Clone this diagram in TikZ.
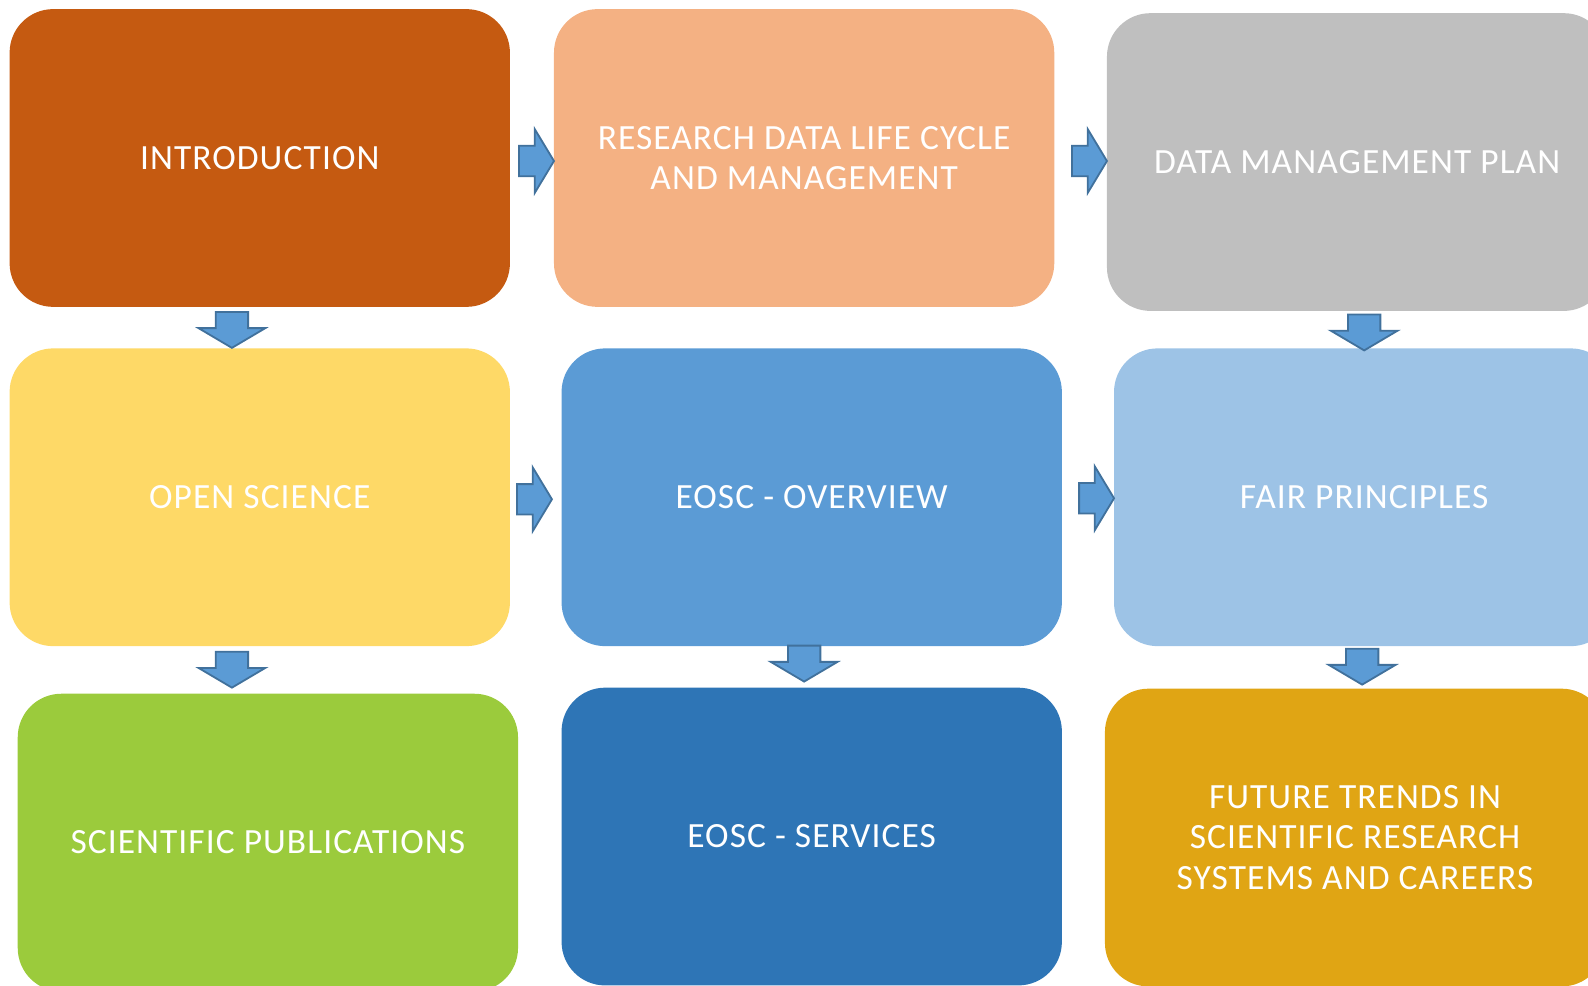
\documentclass[tikz,border=0pt]{standalone}
\usepackage{fontspec}
\setmainfont{Carlito}[LetterSpace=3]
\definecolor{c1}{HTML}{C55A11}
\definecolor{c2}{HTML}{F4B183}
\definecolor{c3}{HTML}{BFBFBF}
\definecolor{c4}{HTML}{FED967}
\definecolor{c5}{HTML}{5B9BD5}
\definecolor{c6}{HTML}{9DC3E6}
\definecolor{c7}{HTML}{9BCB3C}
\definecolor{c8}{HTML}{2E75B6}
\definecolor{c9}{HTML}{E0A514}
\definecolor{afill}{HTML}{5B9BD5}
\definecolor{aline}{HTML}{41719C}
\tikzset{
  box/.style={rounded corners=43pt, minimum width=494pt, minimum height=294pt,
    align=center, text=white, inner sep=0pt, font=\fontsize{35}{40}\selectfont},
  barrow/.style={fill=afill, draw=aline, line width=1.8pt, line join=miter}
}
\newcommand\rarr[2]{\filldraw[barrow] (#1,#2) -- ++(-19,31.5) -- ++(0,-16.5) -- ++(-15.5,0) -- ++(0,-30) -- ++(15.5,0) -- ++(0,-16.5) -- cycle;}
\newcommand\darr[2]{\filldraw[barrow] (#1,#2) -- ++(-33,-19.5) -- ++(17,0) -- ++(0,-16) -- ++(32,0) -- ++(0,16) -- ++(17,0) -- cycle;}
\begin{document}
\begin{tikzpicture}[x=1pt,y=-1pt]
\useasboundingbox (0,0) rectangle (1568,973.5);
\clip (0,0) rectangle (1568,973.5);
\node[box, fill=c1] (intro) at (256.5,156) {INTRODUCTION};
\node[box, fill=c2] (rdlc) at (794,156) {RESEARCH DATA LIFE CYCLE\\AND MANAGEMENT};
\node[box, fill=c3] (dmp) at (1340,160) {DATA MANAGEMENT PLAN};
\node[box, fill=c4] (os) at (256.5,491) {OPEN SCIENCE};
\node[box, fill=c5] (eo) at (801.5,491) {EOSC - OVERVIEW};
\node[box, fill=c6] (fair) at (1347,491) {FAIR PRINCIPLES};
\node[box, fill=c7] (sp) at (264.5,832) {SCIENTIFIC PUBLICATIONS};
\node[box, fill=c8] (es) at (801.5,826) {EOSC - SERVICES};
\node[box, fill=c9] (ft) at (1338,827) {FUTURE TRENDS IN\\SCIENTIFIC RESEARCH\\SYSTEMS AND CAREERS};
\rarr{547}{159}
\rarr{1093}{159}
\rarr{545}{493}
\rarr{1100}{492}
\darr{229}{343.5}
\darr{229}{679}
\darr{794}{673}
\darr{1347}{346}
\darr{1345}{676}
\end{tikzpicture}
\end{document}
